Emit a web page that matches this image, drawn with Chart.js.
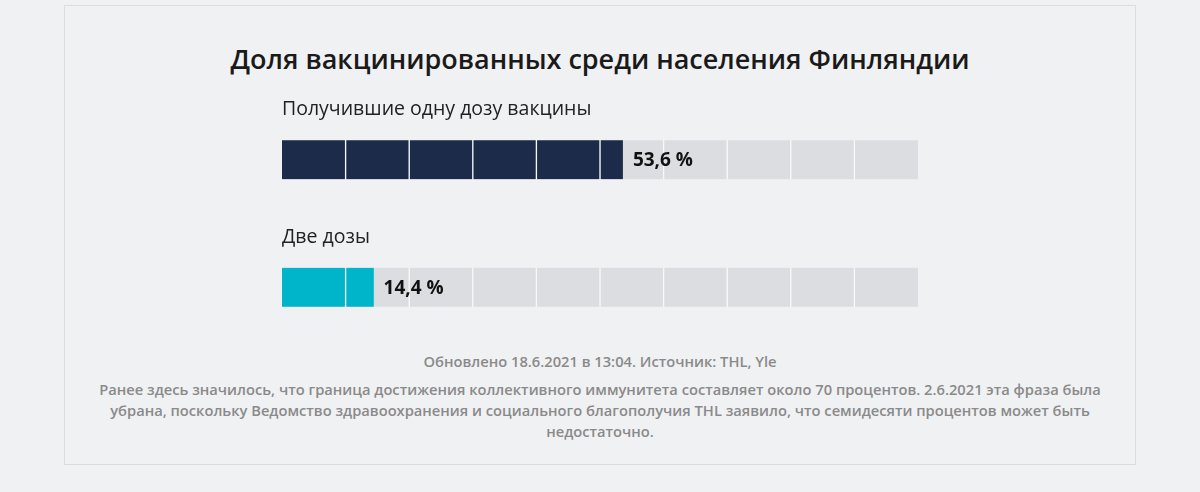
<!DOCTYPE html>
<html lang="ru">
<head>
<meta charset="utf-8">
<title>Доля вакцинированных</title>
<script src="https://cdn.jsdelivr.net/npm/chart.js@4/dist/chart.umd.min.js"></script>
<style>
  html, body { margin: 0; padding: 0; background: #f0f1f3; }
  body { width: 1200px; height: 492px; position: relative; overflow: hidden; font-family: "Open Sans", sans-serif; }
  .card { position: absolute; left: 64px; top: 5px; width: 1070px; height: 458px; border: 1px solid #dcdde0; background: #f0f1f3; }
  h1 { position: absolute; left: 0; top: 40px; width: 1200px; margin: 0; text-align: center; font-size: 27px; font-weight: 600; color: #1a1a1a; }
  .chartBox { position: absolute; left: 282px; top: 96px; width: 636px; height: 255px; }
  .foot { position: absolute; left: 92px; width: 1016px; text-align: center; font-size: 14.7px; line-height: 21px; color: #8a8a8a; font-weight: 600; }
</style>
</head>
<body>
<div class="card"></div>
<h1>Доля вакцинированных среди населения Финляндии</h1>
<div class="chartBox"><canvas id="vaccChart"></canvas></div>
<div class="foot" style="top:351px">Обновлено 18.6.2021 в 13:04. Источник: THL, Yle</div>
<div class="foot" style="top:379px">Ранее здесь значилось, что граница достижения коллективного иммунитета составляет около 70 процентов. 2.6.2021 эта фраза была убрана, поскольку Ведомство здравоохранения и социального благополучия THL заявило, что семидесяти процентов может быть недостаточно.</div>
<script>
// rows of the chart
var categories = ['Получившие одну дозу вакцины', 'Две дозы'];
var values = [53.6, 14.4];
var valueLabels = ['53,6 %', '14,4 %'];
var fillColors = ['#1c2b4a', '#00b4ca'];
// the track is cut into ten blocks of 10 %
var segmentEdges = [0, 10, 20, 30, 40, 50, 60, 70, 80, 90, 100];

var datasets = [];
for (var i = 0; i < segmentEdges.length - 1; i++) {
    var from = segmentEdges[i], to = segmentEdges[i + 1];
    // grey track block
    datasets.push({
        data: categories.map(function() { return [from, to]; }),
        backgroundColor: '#dcdde1',
        borderColor: '#f8f8f9',
        borderWidth: { left: i === 0 ? 0 : 1, right: i === segmentEdges.length - 2 ? 0 : 1, top: 0, bottom: 0 },
        borderSkipped: false,
        order: 2
    });
    // filled part of the block
    datasets.push({
        data: values.map(function(v) { return v > from ? [from, Math.min(v, to)] : null; }),
        backgroundColor: fillColors,
        borderColor: '#f8f8f9',
        borderWidth: values.map(function(v) {
            return { left: i === 0 ? 0 : 1, right: v >= to && i < segmentEdges.length - 2 ? 1 : 0, top: 0, bottom: 0 };
        }),
        borderSkipped: false,
        order: 1
    });
}

/**
 * Writes the row name above each bar and the value after the fill.
 */
var labelPlugin = {
    id: 'rowLabels',
    afterDatasetsDraw: function(chart) {
        var ctx = chart.ctx;
        var x = chart.scales.x, y = chart.scales.y;
        ctx.save();
        ctx.textBaseline = 'middle';
        ctx.textAlign = 'left';
        categories.forEach(function(name, k) {
            var yc = y.getPixelForValue(k);
            ctx.fillStyle = '#222';
            ctx.font = '19.5px "Open Sans"';
            ctx.fillText(name, x.getPixelForValue(0), yc - 50);
            ctx.fillStyle = '#111';
            ctx.font = 'bold 19px "Open Sans"';
            ctx.fillText(valueLabels[k], x.getPixelForValue(values[k]) + 10, yc + 1);
        });
        ctx.restore();
    }
};

var vaccChart = new Chart(document.getElementById('vaccChart').getContext('2d'), {
    type: 'bar',
    data: { labels: categories, datasets: datasets },
    options: {
        indexAxis: 'y',
        responsive: true,
        maintainAspectRatio: false,
        animation: false,
        grouped: false,
        barThickness: 39,
        layout: { padding: 0 },
        scales: {
            x: { display: false, min: 0, max: 100 },
            y: { display: false }
        },
        plugins: { legend: { display: false }, tooltip: { enabled: false } }
    },
    plugins: [labelPlugin]
});
</script>
</body>
</html>
